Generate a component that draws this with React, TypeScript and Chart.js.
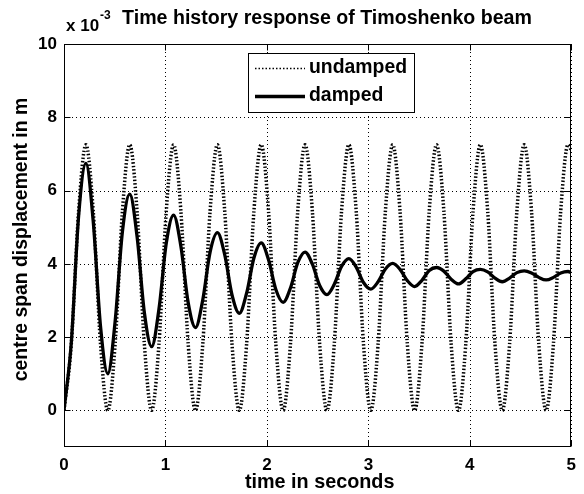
import { useEffect, useRef } from "react";
import { Chart, registerables } from "chart.js";

Chart.register(...registerables);

const chartTitle = "Time history response of Timoshenko beam";
const xAxisTitle = "time in seconds";
const yAxisTitle = "centre span displacement in m";
const yExponentBase = "x 10";
const yExponent = "-3";

const xTickValues = [0, 1, 2, 3, 4, 5];
const yTickValues = [0, 2, 4, 6, 8, 10];

const timeSeconds = [
  0, 0.072, 0.144, 0.216, 0.288, 0.36, 0.432, 0.504, 0.576, 0.648, 0.72, 0.792,
  0.864, 0.936, 1.008, 1.08, 1.152, 1.224, 1.296, 1.368, 1.44, 1.512, 1.584, 1.656,
  1.728, 1.8, 1.872, 1.944, 2.016, 2.088, 2.16, 2.232, 2.304, 2.376, 2.448, 2.52,
  2.592, 2.664, 2.736, 2.808, 2.88, 2.952, 3.024, 3.096, 3.168, 3.24, 3.312, 3.384,
  3.456, 3.528, 3.6, 3.672, 3.744, 3.816, 3.888, 3.96, 4.032, 4.104, 4.176, 4.248,
  4.32, 4.392, 4.464, 4.536, 4.608, 4.68, 4.752, 4.824, 4.896, 4.968, 5.0,
];

const undampedValues = [
  0, 1.81, 5.44, 7.25, 5.44, 1.81,
  0, 1.81, 5.44, 7.25, 5.44, 1.81,
  0, 1.81, 5.44, 7.25, 5.44, 1.81,
  0, 1.81, 5.44, 7.25, 5.44, 1.81,
  0, 1.81, 5.44, 7.25, 5.44, 1.81,
  0, 1.81, 5.44, 7.25, 5.44, 1.81,
  0, 1.81, 5.44, 7.25, 5.44, 1.81,
  0, 1.81, 5.44, 7.25, 5.44, 1.81,
  0, 1.81, 5.44, 7.25, 5.44, 1.81,
  0, 1.81, 5.44, 7.25, 5.44, 1.81,
  0, 1.81, 5.44, 7.25, 5.44, 1.81,
  0, 1.81, 5.44, 7.25, 7.1,
];

const dampedValues = [
  0, 1.85, 5.3, 6.74, 5.16, 2.29,
  1.0, 2.43, 4.88, 5.9, 4.75, 2.67,
  1.74, 2.77, 4.56, 5.33, 4.48, 2.94,
  2.26, 3.02, 4.32, 4.85, 4.25, 3.15,
  2.65, 3.2, 4.16, 4.57, 4.11, 3.3,
  2.95, 3.34, 4.03, 4.32, 3.99, 3.41,
  3.16, 3.44, 3.93, 4.14, 3.91, 3.49,
  3.31, 3.51, 3.86, 4.01, 3.85, 3.54,
  3.38, 3.55, 3.82, 3.9, 3.8, 3.58,
  3.45, 3.59, 3.79, 3.85, 3.78, 3.61,
  3.51, 3.61, 3.76, 3.81, 3.75, 3.63,
  3.56, 3.63, 3.75, 3.79, 3.76,
];

const FONT = '"Liberation Sans", Arial, Helvetica, sans-serif';

const gridPlugin = {
  id: "matlabGrid",
  beforeDatasetsDraw(chart: any) {
    const { ctx, chartArea: a, scales } = chart;
    const xs = scales.x;
    const ys = scales.y;
    ctx.save();
    ctx.strokeStyle = "#000";
    ctx.lineWidth = 1;
    ctx.setLineDash([1, 3]);
    xTickValues.forEach((v) => {
      const px = Math.round(xs.getPixelForValue(v)) + 0.5;
      ctx.beginPath();
      ctx.moveTo(px, a.top);
      ctx.lineTo(px, a.bottom);
      ctx.stroke();
    });
    yTickValues.forEach((v) => {
      const py = Math.round(ys.getPixelForValue(v)) + 0.5;
      ctx.beginPath();
      ctx.moveTo(a.left, py);
      ctx.lineTo(a.right, py);
      ctx.stroke();
    });
    ctx.restore();
  },
  afterDraw(chart: any) {
    const { ctx, chartArea: a, scales } = chart;
    const xs = scales.x;
    const ys = scales.y;
    ctx.save();
    ctx.setLineDash([]);
    ctx.strokeStyle = "#000";
    ctx.lineWidth = 1;
    const L = Math.round(a.left) + 0.5;
    const R = Math.round(a.right) - 0.5;
    const T = Math.round(a.top) + 0.5;
    const B = Math.round(a.bottom) - 0.5;
    ctx.strokeRect(L, T, R - L, B - T);
    const tl = 6;
    ctx.beginPath();
    xTickValues.forEach((v) => {
      const px = Math.round(xs.getPixelForValue(v)) + 0.5;
      ctx.moveTo(px, B);
      ctx.lineTo(px, B - tl);
      ctx.moveTo(px, T);
      ctx.lineTo(px, T + tl);
    });
    yTickValues.forEach((v) => {
      const py = Math.round(ys.getPixelForValue(v)) + 0.5;
      ctx.moveTo(L, py);
      ctx.lineTo(L + tl, py);
      ctx.moveTo(R, py);
      ctx.lineTo(R - tl, py);
    });
    ctx.stroke();

    // texts
    ctx.fillStyle = "#000";
    ctx.font = `bold 19.6px ${FONT}`;
    ctx.textAlign = "center";
    ctx.textBaseline = "middle";
    ctx.fillText(chartTitle, 327, 19);
    ctx.font = `bold 19.8px ${FONT}`;
    ctx.fillText(xAxisTitle, (a.left + a.right) / 2 + 2, 483);
    ctx.font = `bold 19.4px ${FONT}`;
    ctx.save();
    ctx.translate(22, (a.top + a.bottom) / 2 - 6);
    ctx.rotate(-Math.PI / 2);
    ctx.fillText(yAxisTitle, 0, 0);
    ctx.restore();

    ctx.textAlign = "left";
    ctx.font = `bold 17px ${FONT}`;
    ctx.fillText(yExponentBase, 66, 26);
    const w = ctx.measureText(yExponentBase).width;
    ctx.font = `bold 12px ${FONT}`;
    ctx.fillText(yExponent, 66 + w + 1, 16);

    // legend
    const bx = 248, by = 53, bw = 166, bh = 59;
    ctx.fillStyle = "#fff";
    ctx.fillRect(bx, by, bw, bh);
    ctx.strokeStyle = "#000";
    ctx.lineWidth = 1;
    ctx.strokeRect(bx + 0.5, by + 0.5, bw, bh);
    const items = chart.data.datasets;
    const rows = [68, 96];
    items.forEach((ds: any, i: number) => {
      const yy = rows[i];
      ctx.save();
      ctx.strokeStyle = ds.borderColor;
      ctx.lineWidth = i === 0 ? 1.5 : ds.borderWidth;
      ctx.setLineDash(i === 0 ? [1.5, 2] : []);
      ctx.beginPath();
      ctx.moveTo(255, yy + 0.5);
      ctx.lineTo(305, yy + 0.5);
      ctx.stroke();
      ctx.restore();
      ctx.fillStyle = "#000";
      ctx.font = `bold 19.4px ${FONT}`;
      ctx.textAlign = "left";
      ctx.textBaseline = "middle";
      ctx.fillText(ds.label, 309, yy);
    });
    ctx.restore();
  },
};

export default function App() {
  const canvasRef = useRef<HTMLCanvasElement | null>(null);

  useEffect(() => {
    const canvas = canvasRef.current;
    if (!canvas) return;
    const chart = new Chart(canvas, {
      type: "line",
      data: {
        datasets: [
          {
            label: "undamped",
            data: timeSeconds.map((t, i) => ({ x: t, y: undampedValues[i] })),
            borderColor: "#000",
            borderWidth: 3.5,
            borderDash: [1.5, 2],
            pointRadius: 0,
            fill: false,
            cubicInterpolationMode: "monotone",
          },
          {
            label: "damped",
            data: timeSeconds.map((t, i) => ({ x: t, y: dampedValues[i] })),
            borderColor: "#000",
            borderWidth: 3.3,
            pointRadius: 0,
            fill: false,
            cubicInterpolationMode: "monotone",
          },
        ],
      },
      options: {
        animation: false,
        responsive: false,
        maintainAspectRatio: false,
        layout: { padding: { top: 44, right: 7, left: 0, bottom: 0 } },
        plugins: {
          legend: { display: false },
          title: { display: false },
          tooltip: { enabled: false },
        },
        scales: {
          x: {
            type: "linear",
            min: 0,
            max: 5,
            afterBuildTicks: (s: any) => {
              s.ticks = xTickValues.map((v) => ({ value: v }));
            },
            afterFit: (s: any) => {
              s.height = 47;
            },
            grid: { display: false, drawTicks: false },
            border: { display: false },
            ticks: {
              color: "#000",
              padding: 8,
              maxRotation: 0,
              font: { family: FONT, size: 17, weight: "bold" },
              callback: (v: any) => String(v),
            },
          },
          y: {
            type: "linear",
            min: -1,
            max: 10,
            afterBuildTicks: (s: any) => {
              s.ticks = yTickValues.map((v) => ({ value: v }));
            },
            afterFit: (s: any) => {
              s.width = 64;
            },
            grid: { display: false, drawTicks: false },
            border: { display: false },
            ticks: {
              color: "#000",
              padding: 7,
              font: { family: FONT, size: 17, weight: "bold" },
              callback: (v: any) => String(v),
            },
          },
        },
      },
      plugins: [gridPlugin],
    });
    return () => chart.destroy();
  }, []);

  return (
    <div style={{ position: "fixed", left: 0, top: 0, width: 584, height: 494, background: "#fff" }}>
      <canvas ref={canvasRef} width={584} height={494} style={{ width: 584, height: 494, display: "block" }} />
    </div>
  );
}
